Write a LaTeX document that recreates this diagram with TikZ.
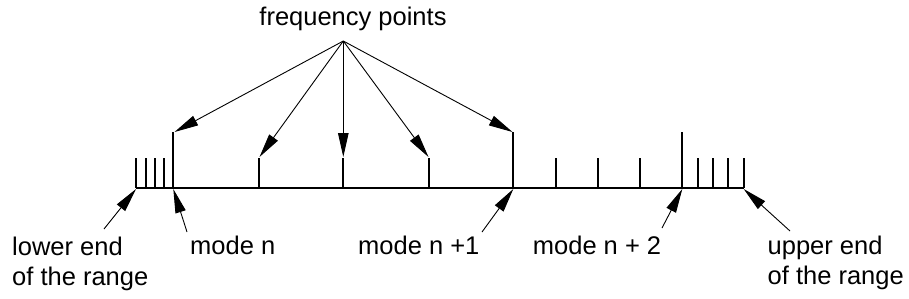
\documentclass[tikz,border=0pt]{standalone}
\usepackage{fontspec}
\setmainfont{Liberation Sans}
\usetikzlibrary{arrows.meta}
\begin{document}
\begin{tikzpicture}[x=1pt,y=-1pt,
  axisline/.style={line width=2pt},
  tickline/.style={line width=2pt},
  pointer/.style={line width=0.9pt,-{Triangle[length=24pt,width=10.5pt]}},
  lbl/.style={font=\fontsize{25.5}{30}\selectfont, inner sep=0pt, anchor=base west, align=left}]
\useasboundingbox (0,0) rectangle (909,298);
% axis
\coordinate (axL) at (136,188);
\coordinate (axR) at (743.7,188);
\draw[axisline] (axL) -- (axR);
% ticks (short)
\foreach \x in {136,145.7,155,164.3,259,343.3,429,556,598,640,698,713.3,728.3,743.7}
  \draw[tickline] (\x,188) -- (\x,158);
% ticks (tall)
\foreach \x in {173.3,513.3,682.3}
  \draw[tickline] (\x,188) -- (\x,132);
% targets
\coordinate (fA) at (174.5,132);
\coordinate (fB) at (259.5,157);
\coordinate (fC) at (343.3,157);
\coordinate (fD) at (428.5,157);
\coordinate (fE) at (512.5,132);
\coordinate (bL) at (136,189);
\coordinate (bN) at (173.3,189);
\coordinate (bN1) at (513.3,189);
\coordinate (bN2) at (682.3,189);
\coordinate (bU) at (743.7,189);
% label nodes
\node[lbl, anchor=base] (freq) at (353,25) {frequency points};
\coordinate (apex) at (343.3,41);
\node[lbl] (lower) at (12,285) {lower end\\of the range};
\node[lbl] (moden) at (190,254) {mode n};
\node[lbl] (moden1) at (358,254) {mode n +1};
\node[lbl] (moden2) at (532.7,254) {mode n + 2};
\node[lbl] (upper) at (767.5,284) {upper end\\of the range};
% pointer tails
\coordinate (sL) at (104,229);
\coordinate (sN) at (187,232);
\coordinate (sN1) at (482,232);
\coordinate (sN2) at (662,228);
\coordinate (sU) at (790,231);
% pointers
\foreach \t in {fA,fB,fC,fD,fE}
  \draw[pointer] (apex) -- (\t);
\draw[pointer] (sL) -- (bL);
\draw[pointer] (sN) -- (bN);
\draw[pointer] (sN1) -- (bN1);
\draw[pointer] (sN2) -- (bN2);
\draw[pointer] (sU) -- (bU);
\end{tikzpicture}
\end{document}
